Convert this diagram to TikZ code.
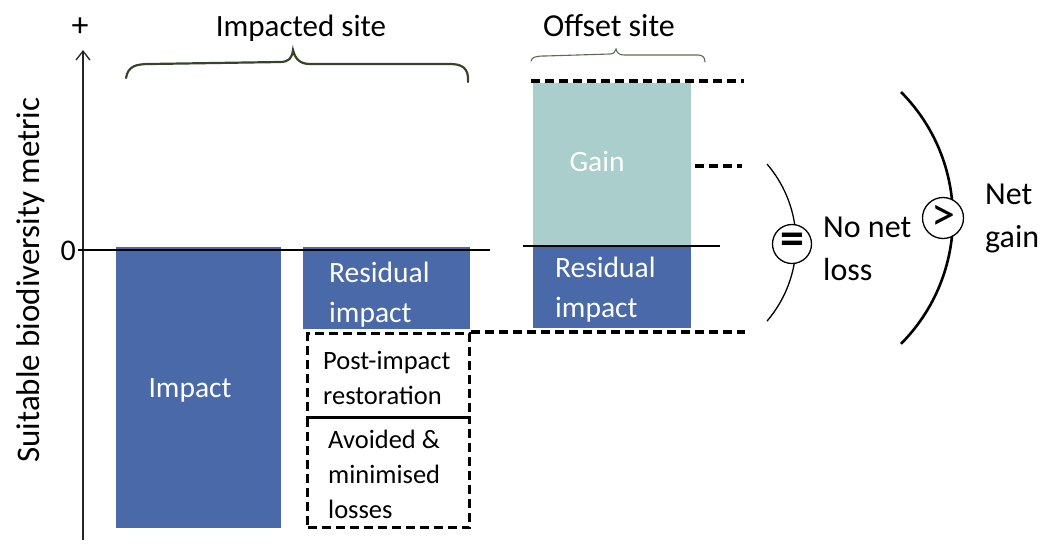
\documentclass[tikz,border=0pt]{standalone}
\usepackage{fontspec}
\setmainfont{Carlito}
\usetikzlibrary{arrows.meta}
\definecolor{barblue}{RGB}{74,105,168}
\definecolor{gainteal}{RGB}{169,206,203}
\definecolor{bracegreen}{RGB}{55,68,42}
\definecolor{bracegray}{RGB}{95,105,85}
\tikzset{
  bar/.style={rectangle, inner sep=0pt, anchor=north west, draw=none},
  bartext/.style={text=white, font=\fontsize{29.5}{40}\selectfont, align=left, inner sep=0pt},
  dashbox/.style={rectangle, inner sep=0pt, anchor=north west, draw=black, line width=3.2pt, dash pattern=on 9pt off 5pt},
  dashline/.style={draw=black, line width=3.2pt, dash pattern=on 9pt off 5pt},
  boxtext/.style={text=black, font=\fontsize{26.5}{35}\selectfont, align=left, inner sep=0pt},
  lbl/.style={text=black, font=\fontsize{32}{43}\selectfont, align=left, inner sep=0pt},
  cmp/.style={circle, draw=black, fill=white, line width=1.3pt, minimum size=39pt, inner sep=0pt},
}
\begin{document}
\begin{tikzpicture}[x=1pt,y=-1pt]
\useasboundingbox (0,0) rectangle (1040,555);
% axis
\coordinate (ax0) at (83,540);
\coordinate (ax1) at (83,50);
\draw[line width=1.3pt, draw=black!85, -{Straight Barb[length=9pt,width=14pt,line width=1.3pt]}] (ax0) -- (ax1);
\node[font=\fontsize{34}{34}\selectfont, inner sep=0pt] (plus) at (80,27) {+};
\node[font=\fontsize{33}{36}\selectfont, rotate=90] (ylab) at (31,280) {Suitable biodiversity metric};
\node[font=\fontsize{30}{32}\selectfont, anchor=east, inner sep=0pt] (zero) at (76,251) {0};
% bars
\node[bar, fill=barblue, minimum width=165pt, minimum height=281pt] (impact) at (116,247) {};
\node[bartext, align=center] (impactT) at (190,390) {Impact};
\node[bar, fill=barblue, minimum width=167pt, minimum height=82pt] (res1) at (303,247) {};
\node[bartext, anchor=west] (res1T) at (329,295) {Residual\\impact};
\node[bar, fill=gainteal, minimum width=158pt, minimum height=163pt] (gain) at (533,83) {};
\node[bartext] (gainT) at (597,161) {Gain};
\node[bar, fill=barblue, minimum width=158pt, minimum height=82pt] (res2) at (533,246) {};
\node[bartext, anchor=west] (res2T) at (555,290) {Residual\\impact};
% dashed boxes
\node[dashbox, minimum width=162pt, minimum height=84pt] (post) at (306,332) {};
\node[boxtext, anchor=west] (postT) at (323,378) {Post-impact\\restoration};
\node[dashbox, minimum width=162pt, minimum height=110pt] (avoid) at (306,416) {};
\node[boxtext, anchor=west] (avoidT) at (328,474) {Avoided \&\\minimised\\losses};
% zero lines
\coordinate (z0) at (78,250);
\coordinate (z1) at (490,250);
\draw[line width=1.3pt] (z0) -- (z1);
\coordinate (o0) at (523,246);
\coordinate (o1) at (720,246);
\draw[line width=1.3pt] (o0) -- (o1);
% dashed level lines
\coordinate (d1a) at (531,81); \coordinate (d1b) at (744,81);
\draw[dashline] (d1a) -- (d1b);
\coordinate (d2a) at (695,166); \coordinate (d2b) at (742,166);
\draw[dashline] (d2a) -- (d2b);
\coordinate (d3b) at (745,332);
\draw[dashline] (post.north east) -- (d3b);
% braces
\node[font=\fontsize{31}{34}\selectfont] (impsite) at (301,28) {Impacted site};
\draw[bracegreen, line width=2.2pt, line cap=round]
  (126,78) .. controls (128,66) and (136,64) .. (150,64)
  -- (280,62) .. controls (289,62) and (292,58) .. (293,50)
  .. controls (295,58) and (299,64) .. (310,64)
  -- (450,64) .. controls (462,64) and (469,68) .. (468,82);
\node[font=\fontsize{32}{34}\selectfont] (offsite) at (609,26) {Offset site};
\draw[bracegray, line width=1.1pt, line cap=round]
  (531,61) .. controls (532,57) and (536,56) .. (545,56)
  -- (610,54) .. controls (614,54) and (615,52) .. (616,49)
  .. controls (617,53) and (619,55) .. (624,55)
  -- (698,55) .. controls (702,55) and (705,57) .. (705,62);
% arcs
\draw[line width=1.3pt] (767,164) arc[start angle=40.6, end angle=-40.6, radius=120.7pt];
\node[cmp, font=\fontsize{48}{48}\selectfont\bfseries] (eq) at (792,244) {=};
\node[lbl] (nnl) at (823,249) [anchor=west] {No net\\loss};
\draw[line width=2.6pt] (901,92) arc[start angle=44.8, end angle=-44.8, radius=178.7pt];
\node[cmp, minimum size=41pt, font=\fontsize{48}{48}\selectfont] (gt) at (943,218) {>};
\node[lbl] (ng) at (985,218) [anchor=west] {Net\\gain};
\end{tikzpicture}
\end{document}
